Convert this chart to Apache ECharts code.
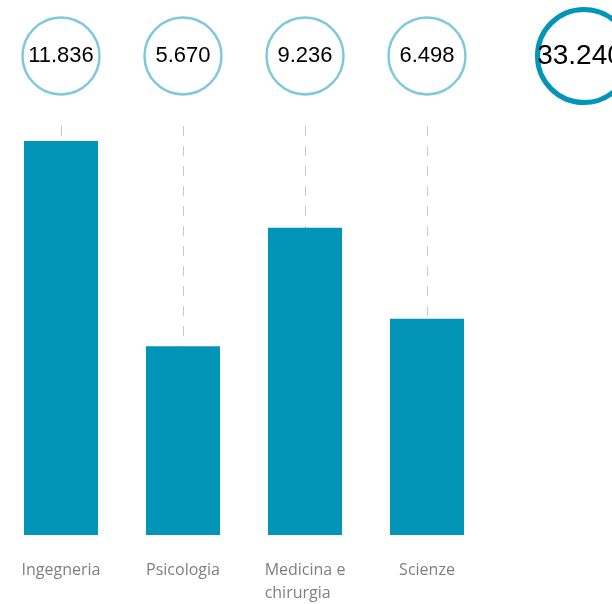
<!DOCTYPE html>
<html>
<head>
<meta charset="utf-8">
<script src="https://cdn.jsdelivr.net/npm/echarts@6/dist/echarts.min.js"></script>
<style>
  html, body { margin: 0; padding: 0; background: #ffffff; }
  #chart { width: 612px; height: 604px; }
</style>
</head>
<body>
<div id="chart"></div>
<script>
const categories = ['Ingegneria', 'Psicologia', 'Medicina e chirurgia', 'Scienze'];
const tickLabels = ['Ingegneria', 'Psicologia', 'Medicina e\nchirurgia', 'Scienze'];
const values = [11836, 5670, 9236, 6498];
const total = values.reduce((a, b) => a + b, 0);

function fmt(v) {
  return String(v).replace(/\B(?=(\d{3})+(?!\d))/g, '.');
}

const chart = echarts.init(document.getElementById('chart'), null, { renderer: 'canvas' });

const option = {
  backgroundColor: '#ffffff',
  animation: false,
  grid: [
    { left: 0, right: 124, top: 126, bottom: 69, containLabel: false },
    { left: 0, right: 124, top: 6, height: 100, containLabel: false }
  ],
  xAxis: [
    {
      type: 'category',
      gridIndex: 0,
      data: categories,
      axisLine: { show: false },
      axisTick: { show: false, alignWithLabel: true },
      splitLine: {
        show: true,
        alignWithLabel: true,
        lineStyle: { color: '#c8c8c8', width: 1, type: [10, 10] }
      },
      axisLabel: {
        interval: 0,
        margin: 24,
        formatter: function (v, i) {
          return tickLabels[i].split('\n').map(l => '{l|' + l + '}').join('\n');
        },
        rich: {
          l: {
            align: 'left',
            fontFamily: '"Open Sans", sans-serif',
            fontSize: 16,
            lineHeight: 23,
            color: '#7f7f7f'
          }
        }
      }
    },
    {
      type: 'category',
      gridIndex: 1,
      data: categories,
      show: false
    }
  ],
  yAxis: [
    { type: 'value', gridIndex: 0, min: 0, max: 12290, show: false, splitLine: { show: false } },
    { type: 'value', gridIndex: 1, min: 0, max: 1, show: false, splitLine: { show: false } }
  ],
  series: [
    {
      type: 'bar',
      xAxisIndex: 0,
      yAxisIndex: 0,
      data: values,
      barWidth: 74,
      itemStyle: { color: '#0395b7' },
      z: 3
    },
    {
      type: 'scatter',
      xAxisIndex: 1,
      yAxisIndex: 1,
      data: categories.map(c => [c, 0.5]),
      symbol: 'circle',
      symbolSize: 77,
      itemStyle: { color: '#ffffff', borderColor: '#80c9d9', borderWidth: 2.5, opacity: 1 },
      label: {
        show: true,
        position: 'inside',
        formatter: p => fmt(values[p.dataIndex]),
        fontFamily: '"Liberation Sans", Arial, sans-serif',
        fontSize: 22,
        color: '#000000'
      },
      silent: true
    }
  ],
  graphic: [
    {
      type: 'circle',
      shape: { cx: 584, cy: 56, r: 46.5 },
      style: { fill: '#ffffff', stroke: '#0395b7', lineWidth: 5 },
      z: 10
    },
    {
      type: 'text',
      x: 580,
      y: 56,
      style: {
        text: fmt(total),
        fontFamily: '"Liberation Sans", Arial, sans-serif',
        fontSize: 28,
        fill: '#000000',
        align: 'center',
        verticalAlign: 'middle'
      },
      z: 11
    }
  ]
};

chart.setOption(option);
</script>
</body>
</html>
